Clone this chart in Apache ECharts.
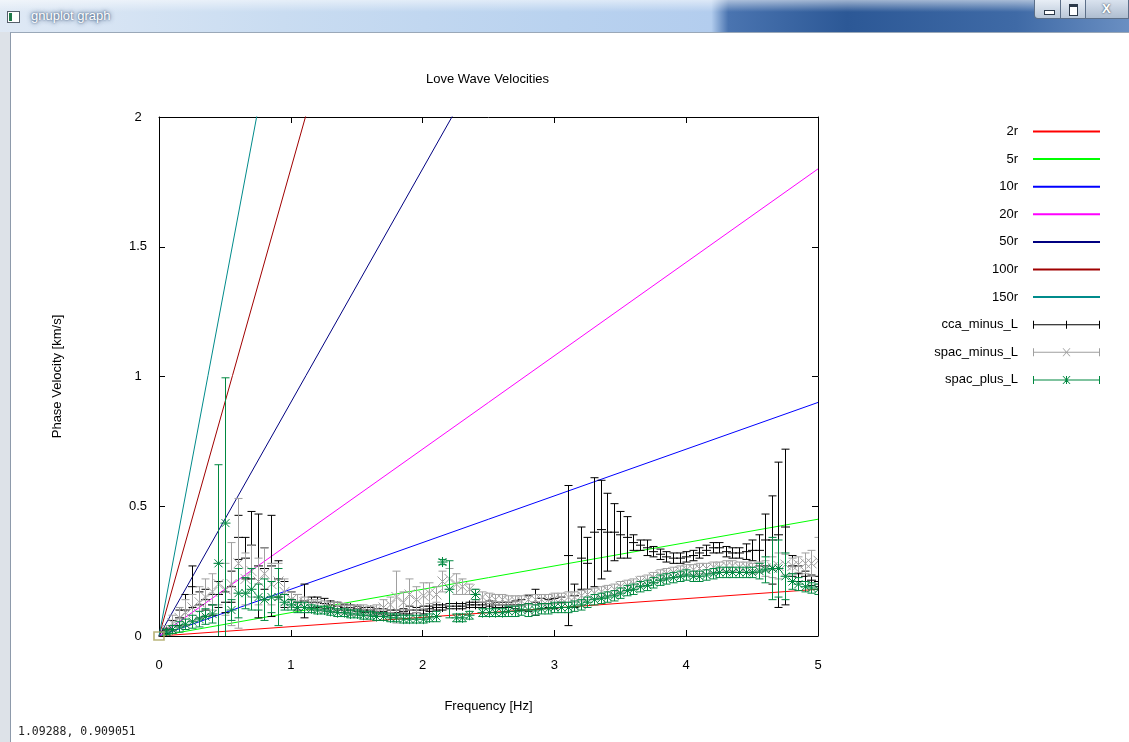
<!DOCTYPE html>
<html>
<head>
<meta charset="utf-8">
<title>Love Wave Velocities</title>
<script src="https://cdn.jsdelivr.net/npm/echarts@6/dist/echarts.min.js"></script>
<style>
  html, body { margin: 0; padding: 0; width: 1129px; height: 742px; overflow: hidden; background: #dde2e8; font-family: "Liberation Sans", Arial, sans-serif; }
  #titlebar { position: absolute; left: 0; top: 0; width: 1129px; height: 32px;
    background: linear-gradient(to right, #dfe9f5 0%, #c9dcf1 25%, #b9d2ef 50%, #b3cdee 63%, #4a74b0 64.5%, #2c5896 75%, #3f6aa6 90%, #6a8fc2 100%); }
  #titlebar .shade { position: absolute; left: 0; top: 0; width: 100%; height: 12px; background: linear-gradient(to bottom, rgba(255,255,255,0.55), rgba(255,255,255,0)); }
  #titlebar .icon { position: absolute; left: 7px; top: 11px; width: 11px; height: 10px; background: #fff; border: 1px solid #56606c; }
  #titlebar .icon::before { content: ""; position: absolute; left: 1px; top: 1px; width: 3px; height: 8px; background: #1f7a4a; }
  #titlebar .caption { position: absolute; left: 31px; top: 8px; font-size: 13px; color: #ffffff; text-shadow: 0 0 5px rgba(30,60,100,0.9), 0 0 2px rgba(30,60,100,0.7); font-family: "Liberation Sans", Arial, sans-serif; }
  .btn { position: absolute; top: 0; height: 19px; border: 1px solid #5c6f88; border-top: none; background: linear-gradient(to bottom, #e8eef6, #b9c7d8); box-sizing: border-box; }
  #bmin { left: 1034px; width: 27px; border-radius: 0 0 0 4px; }
  #bmax { left: 1060px; width: 26px; }
  #bclose { left: 1085px; width: 44px; background: linear-gradient(to bottom, #d9e2ee, #aebdd0); }
  #bmin::after { content: ""; position: absolute; left: 9px; top: 10px; width: 9px; height: 3px; background: #fff; border: 1px solid #2d3a4a; }
  #bmax::after { content: ""; position: absolute; left: 8px; top: 4px; width: 7px; height: 8px; border: 1px solid #2d3a4a; border-top-width: 3px; background: #fff; }
  #bclose span { position: absolute; left: 16px; top: 1px; font-size: 13px; font-weight: bold; color: #fff; text-shadow: 0 0 2px #203040; }
  #client { position: absolute; left: 10px; top: 32px; width: 1119px; height: 710px; background: #fff; border-left: 1px solid #8d9aab; border-top: 1px solid #9aa8b8; box-sizing: border-box; }
  #chart { position: absolute; left: 0; top: 0; width: 1129px; height: 742px; }
  #status { position: absolute; left: 18px; top: 724px; font-family: "DejaVu Sans Mono", monospace; font-size: 11.5px; color: #222; }
</style>
</head>
<body>
<div id="titlebar">
  <div class="shade"></div>
  <div class="icon"></div>
  <div class="caption">gnuplot graph</div>
  <div class="btn" id="bmin"></div>
  <div class="btn" id="bmax"></div>
  <div class="btn" id="bclose"><span>X</span></div>
</div>
<div id="client"></div>
<div id="chart"></div>
<div id="status">1.09288,  0.909051</div>
<script>
// Reference dispersion lines v = f * (k r): velocity each line reaches at 5 Hz
const refLineNames = ['2r', '5r', '10r', '20r', '50r', '100r', '150r'];
const refLineVelocityAt5Hz = [0.18, 0.45, 0.9, 1.8, 4.5, 9.0, 13.5];
const refLineColors = ['#ff0000', '#00ff00', '#0000ff', '#ff00ff', '#000080', '#a00000', '#008b8b'];

// Frequency samples [Hz]
const freq = [
  0.05, 0.10, 0.15, 0.20, 0.25, 0.30, 0.35, 0.40, 0.45, 0.50,
  0.55, 0.60, 0.65, 0.70, 0.75, 0.80, 0.85, 0.90, 0.95, 1.00,
  1.05, 1.10, 1.15, 1.20, 1.25, 1.30, 1.35, 1.40, 1.45, 1.50,
  1.55, 1.60, 1.65, 1.70, 1.75, 1.80, 1.85, 1.90, 1.95, 2.00,
  2.05, 2.10, 2.15, 2.20, 2.25, 2.30, 2.35, 2.40, 2.45, 2.50,
  2.55, 2.60, 2.65, 2.70, 2.75, 2.80, 2.85, 2.90, 2.95, 3.00,
  3.05, 3.10, 3.15, 3.20, 3.25, 3.30, 3.35, 3.40, 3.45, 3.50,
  3.55, 3.60, 3.65, 3.70, 3.75, 3.80, 3.85, 3.90, 3.95, 4.00,
  4.05, 4.10, 4.15, 4.20, 4.25, 4.30, 4.35, 4.40, 4.45, 4.50,
  4.55, 4.60, 4.65, 4.70, 4.75, 4.80, 4.85, 4.90, 4.95, 5.00
];

// cca_minus_L phase velocity [km/s] and its error
const ccaVel = [
  0.02, 0.04, 0.07, 0.10, 0.19, 0.12, 0.14, 0.12, 0.16, 0.13,
  0.19, 0.38, 0.30, 0.35, 0.27, 0.26, 0.27, 0.22, 0.16, 0.14,
  0.13, 0.135, 0.13, 0.13, 0.125, 0.12, 0.115, 0.11, 0.11, 0.105,
  0.10, 0.10, 0.095, 0.095, 0.09, 0.09, 0.095, 0.10, 0.10, 0.10,
  0.105, 0.11, 0.11, 0.115, 0.115, 0.115, 0.12, 0.12, 0.12, 0.125,
  0.12, 0.12, 0.12, 0.12, 0.12, 0.125, 0.13, 0.125, 0.125, 0.125,
  0.13, 0.31, 0.155, 0.30, 0.28, 0.40, 0.41, 0.40, 0.40, 0.39,
  0.38, 0.36, 0.35, 0.34, 0.325, 0.315, 0.305, 0.30, 0.30, 0.305,
  0.31, 0.32, 0.33, 0.34, 0.34, 0.325, 0.32, 0.32, 0.325, 0.33,
  0.33, 0.37, 0.37, 0.39, 0.42, 0.27, 0.24, 0.23, 0.215, 0.21
];
const ccaErr = [
  0.01, 0.02, 0.03, 0.06, 0.08, 0.05, 0.04, 0.04, 0.05, 0.04,
  0.06, 0.085, 0.08, 0.13, 0.20, 0.08, 0.195, 0.07, 0.05, 0.03,
  0.03, 0.065, 0.02, 0.02, 0.02, 0.015, 0.015, 0.01, 0.01, 0.01,
  0.01, 0.01, 0.01, 0.01, 0.01, 0.01, 0.01, 0.015, 0.01, 0.015,
  0.01, 0.01, 0.01, 0.01, 0.01, 0.01, 0.01, 0.01, 0.01, 0.01,
  0.01, 0.01, 0.01, 0.015, 0.02, 0.03, 0.05, 0.02, 0.015, 0.02,
  0.02, 0.27, 0.045, 0.12, 0.10, 0.21, 0.19, 0.15, 0.11, 0.09,
  0.08, 0.03, 0.02, 0.03, 0.02, 0.02, 0.02, 0.02, 0.02, 0.02,
  0.02, 0.02, 0.02, 0.02, 0.02, 0.02, 0.02, 0.02, 0.03, 0.04,
  0.06, 0.10, 0.17, 0.28, 0.30, 0.04, 0.03, 0.02, 0.02, 0.02
];

// spac_minus_L phase velocity [km/s] and its error
const spacMinusVel = [
  0.02, 0.05, 0.07, 0.09, 0.11, 0.13, 0.15, 0.17, 0.20, 0.18,
  0.20, 0.28, 0.22, 0.25, 0.21, 0.24, 0.20, 0.21, 0.17, 0.14,
  0.13, 0.13, 0.12, 0.12, 0.115, 0.11, 0.11, 0.105, 0.10, 0.10,
  0.10, 0.095, 0.10, 0.11, 0.12, 0.15, 0.13, 0.16, 0.14, 0.155,
  0.165, 0.16, 0.21, 0.22, 0.20, 0.19, 0.18, 0.16, 0.15, 0.145,
  0.14, 0.14, 0.135, 0.135, 0.135, 0.14, 0.14, 0.14, 0.14, 0.145,
  0.145, 0.15, 0.15, 0.155, 0.16, 0.165, 0.17, 0.175, 0.18, 0.19,
  0.195, 0.20, 0.21, 0.215, 0.225, 0.235, 0.24, 0.245, 0.25, 0.255,
  0.255, 0.26, 0.26, 0.265, 0.265, 0.27, 0.27, 0.265, 0.265, 0.26,
  0.265, 0.26, 0.265, 0.27, 0.275, 0.27, 0.275, 0.28, 0.28, 0.29
];
const spacMinusErr = [
  0.02, 0.03, 0.04, 0.05, 0.05, 0.06, 0.07, 0.07, 0.08, 0.10,
  0.16, 0.25, 0.10, 0.10, 0.09, 0.10, 0.08, 0.07, 0.05, 0.03,
  0.03, 0.02, 0.02, 0.02, 0.02, 0.02, 0.02, 0.02, 0.02, 0.02,
  0.02, 0.02, 0.02, 0.03, 0.03, 0.10, 0.04, 0.06, 0.05, 0.05,
  0.04, 0.03, 0.04, 0.04, 0.04, 0.03, 0.02, 0.02, 0.02, 0.02,
  0.02, 0.02, 0.02, 0.02, 0.02, 0.02, 0.02, 0.02, 0.02, 0.02,
  0.02, 0.02, 0.02, 0.02, 0.02, 0.02, 0.02, 0.02, 0.02, 0.02,
  0.02, 0.02, 0.02, 0.02, 0.02, 0.02, 0.02, 0.02, 0.02, 0.02,
  0.02, 0.02, 0.02, 0.02, 0.02, 0.02, 0.02, 0.02, 0.02, 0.02,
  0.02, 0.03, 0.04, 0.05, 0.04, 0.03, 0.03, 0.04, 0.05, 0.09
];

// spac_plus_L phase velocity [km/s] and its error
const spacPlusVel = [
  0.015, 0.025, 0.035, 0.045, 0.055, 0.065, 0.075, 0.085, 0.28, 0.435,
  0.10, 0.165, 0.165, 0.18, 0.15, 0.14, 0.15, 0.15, 0.13, 0.12,
  0.11, 0.11, 0.105, 0.10, 0.10, 0.095, 0.09, 0.09, 0.085, 0.085,
  0.08, 0.08, 0.075, 0.075, 0.07, 0.07, 0.065, 0.065, 0.065, 0.065,
  0.07, 0.075, 0.285, 0.18, 0.07, 0.07, 0.08, 0.16, 0.09, 0.09,
  0.09, 0.09, 0.095, 0.095, 0.10, 0.10, 0.10, 0.105, 0.105, 0.11,
  0.11, 0.11, 0.115, 0.12, 0.13, 0.14, 0.145, 0.15, 0.155, 0.165,
  0.175, 0.18, 0.19, 0.195, 0.205, 0.215, 0.22, 0.225, 0.23, 0.235,
  0.23, 0.23, 0.235, 0.24, 0.245, 0.245, 0.245, 0.245, 0.245, 0.245,
  0.25, 0.255, 0.26, 0.26, 0.23, 0.21, 0.20, 0.19, 0.185, 0.18
];
const spacPlusErr = [
  0.01, 0.015, 0.02, 0.02, 0.025, 0.03, 0.03, 0.035, 0.38, 0.56,
  0.04, 0.095, 0.06, 0.08, 0.05, 0.08, 0.06, 0.11, 0.03, 0.02,
  0.02, 0.02, 0.015, 0.015, 0.015, 0.015, 0.015, 0.015, 0.015, 0.015,
  0.015, 0.015, 0.015, 0.015, 0.015, 0.015, 0.015, 0.015, 0.015, 0.015,
  0.015, 0.02, 0.01, 0.11, 0.015, 0.015, 0.015, 0.02, 0.015, 0.015,
  0.015, 0.015, 0.02, 0.02, 0.02, 0.025, 0.02, 0.02, 0.02, 0.02,
  0.02, 0.02, 0.02, 0.02, 0.02, 0.02, 0.02, 0.02, 0.02, 0.02,
  0.02, 0.02, 0.02, 0.02, 0.02, 0.02, 0.02, 0.02, 0.02, 0.02,
  0.02, 0.02, 0.02, 0.02, 0.02, 0.02, 0.02, 0.02, 0.02, 0.02,
  0.03, 0.05, 0.12, 0.11, 0.09, 0.03, 0.025, 0.02, 0.02, 0.02
];

// Axis ticks
const xTicks = { min: 0, max: 5, step: 1 };
const yTicks = { min: 0, max: 2, step: 0.5 };

const FONT = '"Liberation Sans", Arial, sans-serif';
const FS = 13;

// Error bar with caps plus a point marker ('plus', 'cross' or 'star')
function errorBarItem(marker, color) {
  return function (params, api) {
    const f = api.value(0), v = api.value(1), e = api.value(2);
    const c = api.coord([f, v]);
    const hi = api.coord([f, v + e]);
    const lo = api.coord([f, v - e]);
    const x = Math.round(c[0]) + 0.5;
    const cap = 4, mp = 4.5, mx = 5;
    const st = { stroke: color, lineWidth: 1, fill: null };
    const seg = (x1, y1, x2, y2) => ({ type: 'line', shape: { x1, y1, x2, y2 }, style: st });
    const kids = [
      seg(x, hi[1], x, lo[1]),
      seg(x - cap, hi[1], x + cap, hi[1]),
      seg(x - cap, lo[1], x + cap, lo[1])
    ];
    if (marker === 'plus' || marker === 'star') {
      const m = marker === 'star' ? mx : mp;
      kids.push(seg(x - m, c[1], x + m, c[1]), seg(x, c[1] - m, x, c[1] + m));
    }
    if (marker === 'cross' || marker === 'star') {
      const m = marker === 'star' ? mx * 0.8 : mx;
      kids.push(seg(x - m, c[1] - m, x + m, c[1] + m), seg(x - m, c[1] + m, x + m, c[1] - m));
    }
    return { type: 'group', children: kids };
  };
}

function zip3(a, b, c) { return a.map((v, i) => [v, b[i], c[i]]); }

// Legend keys for the error bar series: caps, line and centred marker
const capsAndLine = 'M0,0H1V8H0Z M1,3.5H66V4.5H1Z M66,0H67V8H66Z';
const plusKey = 'M33,0H34V8H33Z';
const crossKey = 'M29.5,0L30.5,0L37.5,8L36.5,8Z M36.5,0L37.5,0L30.5,8L29.5,8Z';
const errorSeriesDefs = [
  { name: 'cca_minus_L', color: '#000000', marker: 'plus', vel: ccaVel, err: ccaErr, key: capsAndLine + ' ' + plusKey },
  { name: 'spac_minus_L', color: '#a0a0a0', marker: 'cross', vel: spacMinusVel, err: spacMinusErr, key: capsAndLine + ' ' + crossKey },
  { name: 'spac_plus_L', color: '#008840', marker: 'star', vel: spacPlusVel, err: spacPlusErr, key: capsAndLine + ' ' + plusKey + ' ' + crossKey }
];

const series = [];
refLineNames.forEach((name, i) => {
  series.push({
    name, type: 'line', xAxisIndex: 0, yAxisIndex: 0,
    data: [[0, 0], [xTicks.max, refLineVelocityAt5Hz[i]]],
    symbol: 'none', showSymbol: false, clip: true, silent: true,
    lineStyle: { color: refLineColors[i], width: 1 },
    itemStyle: { color: refLineColors[i] },
    z: 2
  });
});
errorSeriesDefs.forEach((d, i) => {
  series.push({
    name: d.name, type: 'custom', xAxisIndex: 0, yAxisIndex: 0,
    data: zip3(freq, d.vel, d.err),
    encode: { x: 0, y: 1 },
    renderItem: errorBarItem(d.marker, d.color),
    itemStyle: { color: d.color },
    clip: true, silent: true, z: 3 + i
  });
});
// small hollow square at the origin
series.push({
  type: 'scatter', xAxisIndex: 0, yAxisIndex: 0,
  data: [[0, 0]], symbol: 'rect', symbolSize: [10, 8], clip: false, silent: true,
  itemStyle: { color: 'rgba(0,0,0,0)', borderColor: '#a9a35a', borderWidth: 1.5 },
  z: 10
});

// plain line keys for the reference lines (no point symbol)
const legendData = refLineNames.map(n => ({ name: n, itemStyle: { color: 'rgba(0,0,0,0)', borderWidth: 0, opacity: 0 } }))
  .concat(errorSeriesDefs.map(d => ({ name: d.name, icon: 'path://' + d.key })));

function axisCommon(t) {
  return {
    type: 'value', min: t.min, max: t.max, interval: t.step,
    axisLine: { show: true, onZero: false, lineStyle: { color: '#000', width: 1 } },
    axisTick: { show: true, inside: true, length: 6, lineStyle: { color: '#000' } },
    splitLine: { show: false }
  };
}

const chart = echarts.init(document.getElementById('chart'), null, { renderer: 'canvas' });
chart.setOption({
  animation: false,
  backgroundColor: 'transparent',
  title: {
    text: 'Love Wave Velocities', left: 421, top: 68,
    textStyle: { fontFamily: FONT, fontSize: FS, fontWeight: 'normal', color: '#000' }
  },
  grid: { left: 159, top: 117, width: 659, height: 519, show: false },
  xAxis: [
    Object.assign(axisCommon(xTicks), {
      position: 'bottom', name: 'Frequency [Hz]', nameLocation: 'middle', nameGap: 64,
      nameTextStyle: { fontFamily: FONT, fontSize: FS, color: '#000' },
      axisLabel: { fontFamily: FONT, fontSize: FS, color: '#000', margin: 23 }
    }),
    Object.assign(axisCommon(xTicks), { position: 'top', axisLabel: { show: false } })
  ],
  yAxis: [
    Object.assign(axisCommon(yTicks), {
      position: 'left', name: 'Phase Velocity [km/s]', nameLocation: 'middle', nameGap: 95, nameRotate: 90,
      nameTextStyle: { fontFamily: FONT, fontSize: FS, color: '#000' },
      axisLabel: { fontFamily: FONT, fontSize: FS, color: '#000', margin: 21, align: 'center' }
    }),
    Object.assign(axisCommon(yTicks), { position: 'right', axisLabel: { show: false } })
  ],
  legend: {
    orient: 'vertical', right: 23, top: 120, align: 'right',
    itemWidth: 67, itemHeight: 8, itemGap: 14.6,
    selectedMode: false,
    textStyle: { fontFamily: FONT, fontSize: FS, color: '#000', padding: [0, 10, 0, 0] },
    data: legendData
  },
  series
});
</script>
</body>
</html>
